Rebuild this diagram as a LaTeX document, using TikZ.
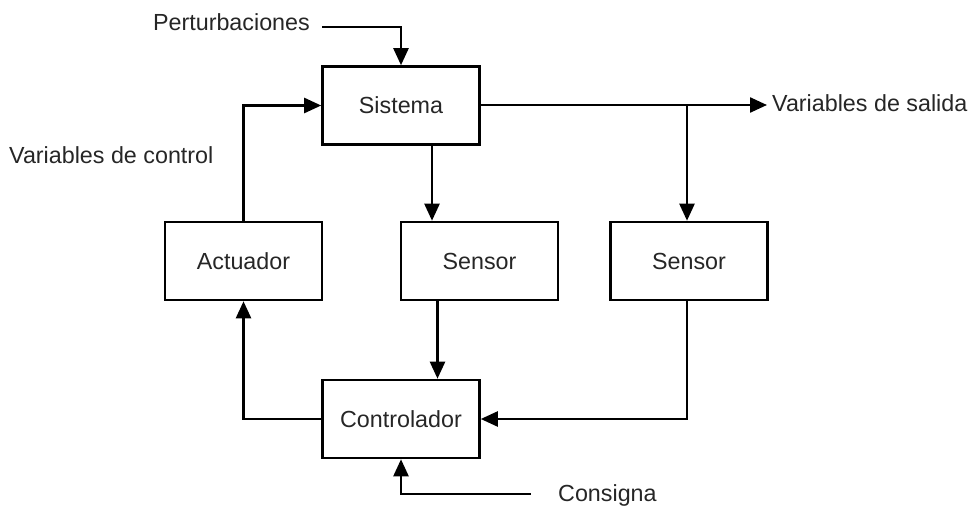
\documentclass[tikz,border=0pt]{standalone}
\usepackage{fontspec}
\setmainfont{Liberation Sans}
\usetikzlibrary{arrows.meta}
\begin{document}
\begin{tikzpicture}[x=1pt,y=-1pt,
  blockbox/.style={draw=black,line width=2.6pt,minimum width=157pt,minimum height=78pt,inner sep=0pt,
     font=\fontsize{23.3}{27}\selectfont,text=black!85},
  lbl/.style={font=\fontsize{23.3}{27}\selectfont,text=black!85,inner sep=0pt},
  conn/.style={line width=2.4pt,line cap=rect},
  arr/.style={conn,-{Triangle[length=17pt,width=15pt]}}]
\useasboundingbox (0,0) rectangle (972,506);
\node[blockbox] (sis) at (401,105.5) {Sistema};
\node[blockbox] (act) at (243.5,261) {Actuador};
\node[blockbox] (s1) at (479.5,261) {Sensor};
\node[blockbox] (s2) at (689,261) {Sensor};
\node[blockbox] (ctrl) at (401,419) {Controlador};
\node[lbl,anchor=east] (pert) at (310,22) {Perturbaciones};
\node[lbl,anchor=west] (out) at (772,103) {Variables de salida};
\node[lbl,anchor=west] (vctl) at (9,155) {Variables de control};
\node[lbl,anchor=west] (cons) at (558,495) {Consigna};
\coordinate (pstart) at (323,27);
\coordinate (cstart) at (530,494);
\coordinate (br) at (687,105);
\draw[arr] (pstart) -| (sis.north);
\draw[arr] (sis.east |- br) -- ([xshift=-5pt]out.west |- br);
\draw[arr] (br) -- (br |- s2.north);
\draw[arr] ([xshift=31pt]sis.south) -- ([xshift=31pt]sis.south |- s1.north);
\draw[arr] ([xshift=-42pt]s1.south) -- ([xshift=-42pt]s1.south |- ctrl.north);
\draw[arr] (br |- s2.south) |- (ctrl.east);
\draw[arr] (ctrl.west) -| (act.south);
\draw[arr] (act.north) |- (sis.west);
\draw[arr] (cstart) -| (ctrl.south);
\end{tikzpicture}
\end{document}
